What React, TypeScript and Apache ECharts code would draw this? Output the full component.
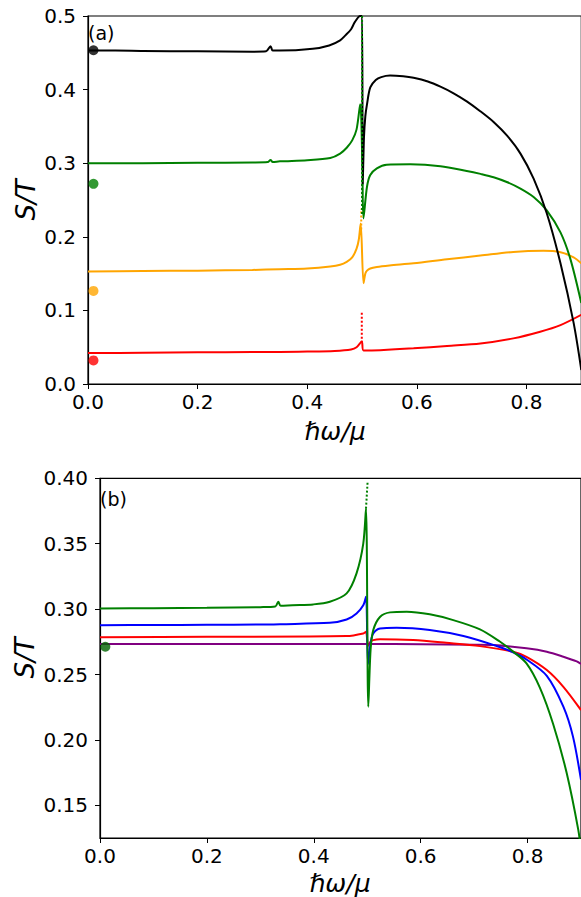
import React, { useEffect, useRef } from "react";
import * as echarts from "echarts";

// ---- panel (a) ----
const aBlackX = [0, 0.05, 0.1, 0.2, 0.3, 0.325, 0.333, 0.337, 0.35, 0.41, 0.44, 0.46, 0.47, 0.48, 0.487, 0.4966, 0.5, 0.5012, 0.5035, 0.506, 0.509, 0.515, 0.525, 0.535, 0.551, 0.575, 0.594, 0.62, 0.643, 0.667, 0.691, 0.715, 0.74, 0.765, 0.789, 0.813, 0.837, 0.862, 0.886, 0.9];
const aBlackY = [0.453, 0.453, 0.4525, 0.452, 0.4515, 0.452, 0.459, 0.453, 0.453, 0.4555, 0.46, 0.467, 0.474, 0.482, 0.492, 0.5, 0.5, 0.271, 0.335, 0.364, 0.38, 0.403, 0.413, 0.417, 0.419, 0.418, 0.416, 0.411, 0.404, 0.395, 0.384, 0.371, 0.356, 0.337, 0.313, 0.279, 0.232, 0.164, 0.083, 0.019];

const aGreenX = [0, 0.1, 0.2, 0.3, 0.328, 0.333, 0.337, 0.35, 0.4, 0.442, 0.46, 0.472, 0.482, 0.49, 0.4966, 0.5005, 0.5025, 0.509, 0.515, 0.527, 0.545, 0.588, 0.643, 0.691, 0.716, 0.74, 0.764, 0.789, 0.813, 0.837, 0.862, 0.88, 0.9];
const aGreenY = [0.3, 0.3, 0.3005, 0.301, 0.3015, 0.3045, 0.3015, 0.3025, 0.304, 0.307, 0.313, 0.321, 0.331, 0.346, 0.38, 0.3, 0.225, 0.268, 0.284, 0.293, 0.298, 0.2985, 0.296, 0.2895, 0.2855, 0.281, 0.2745, 0.2655, 0.254, 0.236, 0.206, 0.17, 0.11];

const aOrangeX = [0, 0.1, 0.2, 0.3, 0.35, 0.4, 0.442, 0.46, 0.472, 0.482, 0.49, 0.494, 0.4975, 0.5027, 0.506, 0.509, 0.515, 0.527, 0.55, 0.594, 0.655, 0.716, 0.776, 0.831, 0.862, 0.886, 0.9];
const aOrangeY = [0.153, 0.1535, 0.154, 0.155, 0.156, 0.157, 0.1596, 0.162, 0.166, 0.172, 0.184, 0.196, 0.218, 0.137, 0.15, 0.154, 0.157, 0.159, 0.161, 0.164, 0.1695, 0.1745, 0.1795, 0.181, 0.179, 0.172, 0.164];

const aRedX = [0, 0.1, 0.2, 0.3, 0.35, 0.4, 0.45, 0.48, 0.49, 0.4995, 0.5027, 0.533, 0.594, 0.655, 0.716, 0.776, 0.825, 0.862, 0.9];
const aRedY = [0.042, 0.0425, 0.043, 0.0435, 0.0435, 0.044, 0.045, 0.047, 0.05, 0.0576, 0.0455, 0.046, 0.0485, 0.0517, 0.055, 0.062, 0.071, 0.08, 0.094];

// dotted spikes at the resonance
const aGreenDotX = [0.5, 0.5];
const aGreenDotY = [0.5, 0.23];
const aOrangeDotX = [0.4985, 0.4985];
const aOrangeDotY = [0.21, 0.238];
const aRedDotX = [0.4995, 0.4995];
const aRedDotY = [0.056, 0.098];

// markers at ħω → 0
const aDotX = [0.01, 0.01, 0.01, 0.01];
const aDotY = [0.4535, 0.272, 0.1265, 0.032];
const aDotColors = ["#000000", "#008000", "#FFA500", "#FF0000"];

// ---- panel (b) ----
const bGreenX = [0, 0.1, 0.2, 0.3, 0.328, 0.3336, 0.338, 0.36, 0.399, 0.43, 0.4615, 0.48, 0.4926, 0.4977, 0.502, 0.5063, 0.5113, 0.5238, 0.5426, 0.574, 0.617, 0.661, 0.711, 0.748, 0.773, 0.798, 0.823, 0.848, 0.873, 0.895, 0.9];
const bGreenY = [0.3005, 0.3007, 0.301, 0.3015, 0.302, 0.3056, 0.3025, 0.303, 0.3036, 0.3056, 0.312, 0.3273, 0.35, 0.3768, 0.2254, 0.269, 0.284, 0.294, 0.2975, 0.298, 0.296, 0.2916, 0.2845, 0.2752, 0.2675, 0.2585, 0.24, 0.212, 0.175, 0.131, 0.115];

const bBlueX = [0, 0.1, 0.2, 0.3, 0.337, 0.43, 0.4615, 0.48, 0.4926, 0.4977, 0.5015, 0.5063, 0.5113, 0.524, 0.555, 0.617, 0.68, 0.742, 0.773, 0.798, 0.836, 0.867, 0.885, 0.9];
const bBlueY = [0.2877, 0.2878, 0.288, 0.2882, 0.2885, 0.2895, 0.292, 0.2967, 0.303, 0.3094, 0.258, 0.274, 0.2814, 0.2852, 0.2857, 0.284, 0.2794, 0.2718, 0.267, 0.2615, 0.249, 0.2254, 0.2025, 0.1694];

const bRedX = [0, 0.2, 0.4615, 0.4926, 0.4977, 0.5015, 0.5063, 0.5113, 0.524, 0.586, 0.648, 0.711, 0.773, 0.798, 0.836, 0.867, 0.9];
const bRedY = [0.2785, 0.2788, 0.2794, 0.2814, 0.2827, 0.272, 0.275, 0.2763, 0.277, 0.2763, 0.2742, 0.2717, 0.2674, 0.2635, 0.2534, 0.2406, 0.2228];

const bPurpleX = [0, 0.5, 0.6, 0.7, 0.736, 0.798, 0.836, 0.867, 0.892, 0.9];
const bPurpleY = [0.2733, 0.2733, 0.2732, 0.2728, 0.2725, 0.27, 0.2674, 0.2636, 0.26, 0.258];

const bGreenDotX = [0.4977, 0.5008];
const bGreenDotY = [0.3768, 0.398];

const bDotX = [0.01];
const bDotY = [0.2712];

const X_TICKS = [0, 0.2, 0.4, 0.6, 0.8];
const A_Y_TICKS = [0, 0.1, 0.2, 0.3, 0.4, 0.5];
const B_Y_TICKS = [0.15, 0.2, 0.25, 0.3, 0.35, 0.4];

const pairs = (xs: number[], ys: number[]) => xs.map((x, i) => [x, ys[i]]);

const FONT = "DejaVu Sans";

function line(name: string, xs: number[], ys: number[], color: string, idx: number, dotted = false) {
  return {
    name,
    type: "line",
    xAxisIndex: idx,
    yAxisIndex: idx,
    data: pairs(xs, ys),
    showSymbol: false,
    symbol: "none",
    smooth: dotted ? false : 0.3,
    clip: true,
    lineStyle: { color, width: 2, type: dotted ? [2, 2] : "solid" },
    z: dotted ? 3 : 2,
  };
}

function xAxis(idx: number) {
  return {
    type: "value",
    gridIndex: idx,
    min: 0,
    max: 0.9,
    splitLine: { show: false },
    axisLine: { show: true, onZero: false, lineStyle: { color: "#000", width: 1.2 } },
    axisTick: { show: true, length: 5, customValues: X_TICKS, lineStyle: { color: "#000", width: 1 } },
    axisLabel: {
      customValues: X_TICKS,
      margin: 8,
      color: "#000",
      fontFamily: FONT,
      fontSize: 20,
      formatter: (v: number) => v.toFixed(1),
    },
  };
}

function yAxis(idx: number, min: number, max: number, ticks: number[], digits: number) {
  return {
    type: "value",
    gridIndex: idx,
    min,
    max,
    splitLine: { show: false },
    axisLine: { show: true, onZero: false, lineStyle: { color: "#000", width: 1.2 } },
    axisTick: { show: true, length: 5, customValues: ticks, lineStyle: { color: "#000", width: 1 } },
    axisLabel: {
      customValues: ticks,
      margin: 12,
      color: "#000",
      fontFamily: FONT,
      fontSize: 20,
      formatter: (v: number) => v.toFixed(digits),
    },
  };
}

function titleText(text: string, x: number, y: number, rotate: boolean, size: number) {
  return {
    type: "text",
    x,
    y,
    rotation: rotate ? Math.PI / 2 : 0,
    style: {
      text,
      fill: "#000",
      font: `italic ${size}px "${FONT}"`,
      align: "center",
      verticalAlign: "middle",
    },
  };
}

function panelTag(text: string, x: number, y: number) {
  return {
    type: "text",
    x,
    y,
    style: {
      text,
      fill: "#000",
      font: `19px "${FONT}"`,
      align: "left",
      verticalAlign: "middle",
    },
  };
}

export default function App() {
  const ref = useRef<HTMLDivElement>(null);

  useEffect(() => {
    if (!ref.current) return;
    const chart = echarts.init(ref.current, null, { renderer: "svg" });
    chart.setOption({
      animation: false,
      backgroundColor: "#ffffff",
      grid: [
        { left: 88, top: 16, width: 493.3, height: 368, show: true, borderColor: "#000", borderWidth: 1.2, backgroundColor: "transparent" },
        { left: 100, top: 478.3, width: 481, height: 359.7, show: true, borderColor: "#000", borderWidth: 1.2, backgroundColor: "transparent" },
      ],
      xAxis: [xAxis(0), xAxis(1)],
      yAxis: [yAxis(0, 0, 0.5, A_Y_TICKS, 1), yAxis(1, 0.125, 0.4, B_Y_TICKS, 2)],
      series: [
        line("a-red", aRedX, aRedY, "#FF0000", 0),
        line("a-orange", aOrangeX, aOrangeY, "#FFA500", 0),
        line("a-green", aGreenX, aGreenY, "#008000", 0),
        line("a-black", aBlackX, aBlackY, "#000000", 0),
        line("a-red-dot", aRedDotX, aRedDotY, "#FF0000", 0, true),
        line("a-orange-dot", aOrangeDotX, aOrangeDotY, "#FFA500", 0, true),
        line("a-green-dot", aGreenDotX, aGreenDotY, "#008000", 0, true),
        {
          name: "a-limit",
          type: "scatter",
          xAxisIndex: 0,
          yAxisIndex: 0,
          symbolSize: 10,
          data: aDotX.map((x, i) => ({ value: [x, aDotY[i]], itemStyle: { color: aDotColors[i] } })),
          z: 5,
        },
        line("b-purple", bPurpleX, bPurpleY, "#800080", 1),
        line("b-red", bRedX, bRedY, "#FF0000", 1),
        line("b-blue", bBlueX, bBlueY, "#0000FF", 1),
        line("b-green", bGreenX, bGreenY, "#008000", 1),
        line("b-green-dot", bGreenDotX, bGreenDotY, "#008000", 1, true),
        {
          name: "b-limit",
          type: "scatter",
          xAxisIndex: 1,
          yAxisIndex: 1,
          symbolSize: 10,
          data: pairs(bDotX, bDotY),
          itemStyle: { color: "#006400" },
          z: 5,
        },
      ],
      graphic: [
        titleText("S/T", 26, 200, true, 26),
        titleText("ℏω/μ", 335, 431, false, 25),
        titleText("S/T", 25, 658, true, 26),
        titleText("ℏω/μ", 340, 883, false, 25),
        panelTag("(a)", 88, 33),
        panelTag("(b)", 100, 499),
      ],
    });
    return () => chart.dispose();
  }, []);

  return (
    <div style={{ position: "fixed", left: 0, top: 0, width: 581, height: 897, overflow: "hidden", background: "#fff" }}>
      <div ref={ref} style={{ width: 600, height: 897 }} />
    </div>
  );
}
